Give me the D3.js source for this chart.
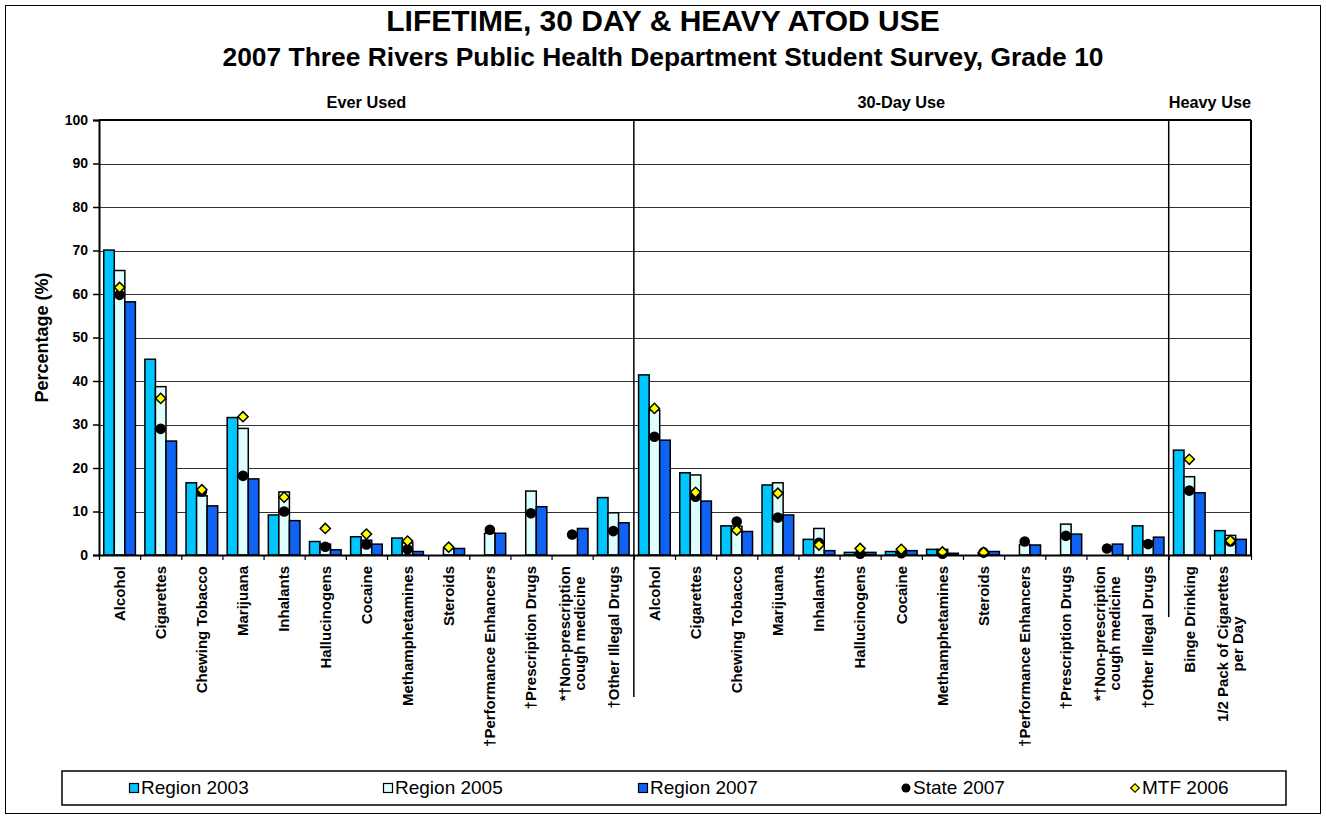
<!DOCTYPE html>
<html>
<head>
<meta charset="utf-8">
<script src="https://cdn.jsdelivr.net/npm/d3@7"></script>
<style>
  html, body { margin: 0; padding: 0; background: #fff; }
  svg { display: block; font-family: "Liberation Sans", Arial, sans-serif; }
</style>
</head>
<body>
<svg id="chart" width="1326" height="819"></svg>
<script>
// ---------------- DATA ----------------
const categories = [
  "Alcohol", "Cigarettes", "Chewing Tobacco", "Marijuana", "Inhalants", "Hallucinogens",
  "Cocaine", "Methamphetamines", "Steroids", "†Performance Enhancers", "†Prescription Drugs",
  "*†Non-prescription\ncough medicine", "†Other Illegal Drugs",
  "Alcohol", "Cigarettes", "Chewing Tobacco", "Marijuana", "Inhalants", "Hallucinogens",
  "Cocaine", "Methamphetamines", "Steroids", "†Performance Enhancers", "†Prescription Drugs",
  "*†Non-prescription\ncough medicine", "†Other Illegal Drugs",
  "Binge Drinking", "1/2 Pack of Cigarettes\nper Day"
];
const sectionNames = ["Ever Used", "30-Day Use", "Heavy Use"];
const sectionSizes = [13, 13, 2];

const region2003 = [70.1, 45.0, 16.6, 31.6, 9.2, 3.1, 4.2, 3.9, null, null, null, null, 13.2,
                    41.4, 18.9, 6.7, 16.1, 3.6, 0.6, 0.8, 1.3, null, null, null, null, 6.7,
                    24.1, 5.6];
const region2005 = [65.4, 38.7, 13.6, 29.1, 14.5, 2.5, 3.4, 2.8, 1.5, 5.0, 14.7, null, 9.7,
                    33.3, 18.4, 6.6, 16.6, 6.1, 0.5, 0.6, 1.3, 0.5, 2.4, 7.1, null, 3.2,
                    18.0, 4.5];
const region2007 = [58.2, 26.2, 11.3, 17.5, 7.9, 1.2, 2.5, 0.8, 1.5, 5.0, 11.1, 6.1, 7.4,
                    26.4, 12.4, 5.4, 9.2, 1.0, 0.6, 1.0, 0.4, 0.8, 2.3, 4.8, 2.5, 4.1,
                    14.3, 3.6];
const state2007 = [59.8, 29.0, 14.6, 18.2, 10.0, 1.9, 2.4, 1.3, null, 5.8, 9.6, 4.7, 5.5,
                   27.2, 13.4, 7.7, 8.6, 2.8, 0.3, 0.4, 0.3, 0.6, 3.1, 4.4, 1.5, 2.5,
                   14.8, 3.1];
const mtf2006 = [61.5, 36.0, 15.0, 31.8, 13.3, 6.1, 4.8, 3.2, 1.8, null, null, null, null,
                 33.7, 14.4, 5.7, 14.2, 2.3, 1.5, 1.3, 0.7, 0.6, null, null, null, null,
                 22.0, 3.3];
const barSeriesNames = ["Region 2003", "Region 2005", "Region 2007"];
const pointSeriesNames = ["State 2007", "MTF 2006"];
const yTicks = [0, 10, 20, 30, 40, 50, 60, 70, 80, 90, 100];
const titleText = "LIFETIME, 30 DAY & HEAVY ATOD USE";
const subtitleText = "2007 Three Rivers Public Health Department Student Survey, Grade 10";
const yLabelText = "Percentage (%)";

// ---------------- LAYOUT ----------------
const svg = d3.select("#chart");
const W = 1326, H = 819;
const plot = { left: 99, right: 1251, top: 120, bottom: 555 };
const barColors = ["#00C6FF", "#DFFFFF", "#0F62F2"];

svg.append("rect").attr("x", 5.5).attr("y", 5.5).attr("width", W - 11).attr("height", H - 11)
  .attr("fill", "#fff").attr("stroke", "#000").attr("stroke-width", 1);

const x = d3.scaleBand().domain(d3.range(categories.length)).range([plot.left, plot.right]).padding(0);
const xEdge = d3.scaleLinear().domain([0, categories.length]).range([plot.left, plot.right]);
const xs = d3.scaleBand().domain(barSeriesNames).range([0, x.bandwidth()]).paddingInner(0).paddingOuter(0.45);
const y = d3.scaleLinear().domain([0, 100]).range([plot.bottom, plot.top]);

// gridlines
svg.append("g").selectAll("line").data(yTicks.filter(t => t > 0 && t < 100)).join("line")
  .attr("x1", plot.left).attr("x2", plot.right)
  .attr("y1", d => Math.round(y(d)) + 0.5).attr("y2", d => Math.round(y(d)) + 0.5)
  .attr("stroke", "#333").attr("stroke-width", 1);

// plot border top/right
svg.append("line").attr("x1", plot.left).attr("x2", plot.right).attr("y1", plot.top).attr("y2", plot.top)
  .attr("stroke", "#000").attr("stroke-width", 2);
svg.append("line").attr("x1", plot.right).attr("x2", plot.right).attr("y1", plot.top).attr("y2", plot.bottom)
  .attr("stroke", "#000").attr("stroke-width", 2);

// section separators
let cum = 0;
const sepBottoms = [697, 617];
sectionSizes.forEach((n, i) => {
  const x0 = xEdge(cum), x1 = xEdge(cum + n);
  svg.append("text").attr("x", (x0 + x1) / 2).attr("y", 108)
    .attr("text-anchor", "middle").attr("font-weight", "bold").attr("font-size", 16.3)
    .text(sectionNames[i]);
  cum += n;
  if (i < sectionSizes.length - 1) {
    svg.append("line").attr("x1", xEdge(cum)).attr("x2", xEdge(cum))
      .attr("y1", plot.top).attr("y2", sepBottoms[i])
      .attr("stroke", "#000").attr("stroke-width", 1.5);
  }
});

// bars
const barData = [];
[region2003, region2005, region2007].forEach((arr, s) => {
  arr.forEach((v, i) => { if (v != null) barData.push({ i, s, v }); });
});
svg.append("g").selectAll("rect").data(barData).join("rect")
  .attr("x", d => x(d.i) + xs(barSeriesNames[d.s]))
  .attr("width", xs.bandwidth())
  .attr("y", d => y(d.v))
  .attr("height", d => y(0) - y(d.v))
  .attr("fill", d => barColors[d.s])
  .attr("stroke", "#000").attr("stroke-width", 1.5);

// state points
svg.append("g").selectAll("circle")
  .data(state2007.map((v, i) => ({ i, v })).filter(d => d.v != null)).join("circle")
  .attr("cx", d => x(d.i) + x.bandwidth() / 2)
  .attr("cy", d => y(d.v))
  .attr("r", 5.3).attr("fill", "#000");

// MTF points
const diamond = d3.symbol().type(d3.symbolSquare).size(52);
svg.append("g").selectAll("path")
  .data(mtf2006.map((v, i) => ({ i, v })).filter(d => d.v != null)).join("path")
  .attr("d", diamond)
  .attr("transform", d => `translate(${x(d.i) + x.bandwidth() / 2},${y(d.v)}) rotate(45)`)
  .attr("fill", "#FFFF00").attr("stroke", "#000").attr("stroke-width", 1.5);

// y axis
const yAxisG = svg.append("g").attr("transform", `translate(${plot.left},0)`);
yAxisG.call(d3.axisLeft(y).tickValues(d3.range(0, 101, 2)).tickSize(4).tickFormat(""));
yAxisG.call(d3.axisLeft(y).tickValues(yTicks).tickSize(6).tickPadding(5));
yAxisG.select(".domain").attr("stroke-width", 2);
yAxisG.selectAll("line").attr("stroke", "#000").attr("stroke-width", 1.5);
yAxisG.selectAll("text").attr("font-family", "Liberation Sans, Arial, sans-serif")
  .attr("font-size", 14).attr("font-weight", "bold").attr("fill", "#000");

// x axis
const xAxisG = svg.append("g").attr("transform", `translate(0,${plot.bottom})`);
xAxisG.call(d3.axisBottom(xEdge).tickValues(d3.range(0, categories.length + 1)).tickSize(5).tickFormat("").tickSizeOuter(0));
xAxisG.select(".domain").attr("stroke-width", 2);
xAxisG.selectAll("line").attr("stroke", "#000").attr("stroke-width", 1.2);

// category labels
const labFS = 15, labLH = 15, labTop = 566;
categories.forEach((lab, i) => {
  const lines = lab.split("\n");
  const cx = x(i) + x.bandwidth() / 2;
  const g = svg.append("g").attr("transform", `translate(${cx},${labTop}) rotate(-90)`);
  const texts = lines.map((ln, k) => g.append("text")
    .attr("text-anchor", "end").attr("font-weight", "bold").attr("font-size", labFS)
    .attr("y", 0.35 * labFS + (k - (lines.length - 1) / 2) * labLH)
    .text(ln));
  const lens = texts.map(t => t.node().getComputedTextLength());
  const maxLen = d3.max(lens);
  texts.forEach((t, k) => t.attr("x", -(maxLen - lens[k]) / 2));
});

// titles
svg.append("text").attr("x", 663).attr("y", 31).attr("text-anchor", "middle")
  .attr("font-weight", "bold").attr("font-size", 30).text(titleText);
svg.append("text").attr("x", 663).attr("y", 66).attr("text-anchor", "middle")
  .attr("font-weight", "bold").attr("font-size", 26.4).text(subtitleText);

// y label
svg.append("text").attr("transform", `translate(48,${(plot.top + plot.bottom) / 2}) rotate(-90)`)
  .attr("text-anchor", "middle").attr("font-weight", "bold").attr("font-size", 18).text(yLabelText);

// legend
const leg = svg.append("g");
leg.append("rect").attr("x", 62).attr("y", 771).attr("width", 1224).attr("height", 34)
  .attr("fill", "#fff").attr("stroke", "#000").attr("stroke-width", 1.5);
const legendNames = barSeriesNames.concat(pointSeriesNames);
const legendX = [134, 388, 643, 906, 1135];
const legY = 788;
legendNames.forEach((name, i) => {
  const lx = legendX[i];
  if (i < 3) {
    leg.append("rect").attr("x", lx - 4.5).attr("y", legY - 4.5).attr("width", 9).attr("height", 9)
      .attr("fill", barColors[i]).attr("stroke", "#000").attr("stroke-width", 1.2);
  } else if (i === 3) {
    leg.append("circle").attr("cx", lx).attr("cy", legY).attr("r", 4.5).attr("fill", "#000");
  } else {
    leg.append("path").attr("d", d3.symbol().type(d3.symbolSquare).size(36))
      .attr("transform", `translate(${lx},${legY}) rotate(45)`)
      .attr("fill", "#FFFF00").attr("stroke", "#000").attr("stroke-width", 1.2);
  }
  leg.append("text").attr("x", lx + 7).attr("y", legY + 6).attr("font-size", 19).text(name);
});
</script>
</body>
</html>
